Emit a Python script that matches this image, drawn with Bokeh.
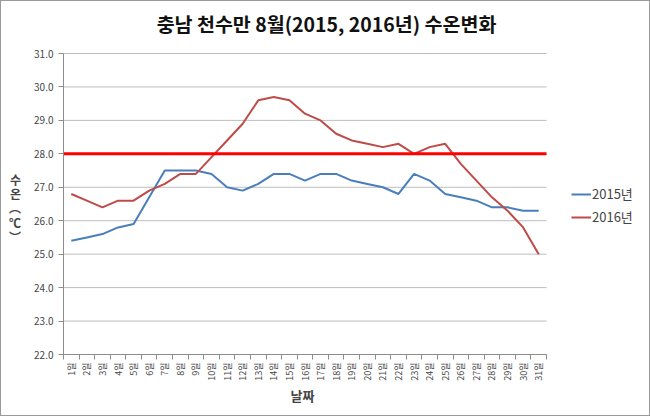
import math
from bokeh.plotting import figure
from bokeh.models import (FixedTicker, NumeralTickFormatter, Legend, LegendItem,
                          Range1d, Axis, Label, Title)
from bokeh.embed import file_html
from bokeh.resources import INLINE

days = list(range(1, 32))
day_labels = [f"{d}일" for d in days]
temp_2015 = [25.4, 25.5, 25.6, 25.8, 25.9, 26.7, 27.5, 27.5, 27.5, 27.4,
             27.0, 26.9, 27.1, 27.4, 27.4, 27.2, 27.4, 27.4, 27.2, 27.1,
             27.0, 26.8, 27.4, 27.2, 26.8, 26.7, 26.6, 26.4, 26.4, 26.3, 26.3]
temp_2016 = [26.8, 26.6, 26.4, 26.6, 26.6, 26.9, 27.1, 27.4, 27.4, 27.9,
             28.4, 28.9, 29.6, 29.7, 29.6, 29.2, 29.0, 28.6, 28.4, 28.3,
             28.2, 28.3, 28.0, 28.2, 28.3, 27.7, 27.2, 26.7, 26.3, 25.8, 25.0]
series_names = ["2015년", "2016년"]
threshold = 28.0
y_ticks = [22.0, 23.0, 24.0, 25.0, 26.0, 27.0, 28.0, 29.0, 30.0, 31.0]
title_text = "충남 천수만 8월(2015, 2016년) 수온변화"
x_title = "날짜"
# vertical (stacked) y-axis title: 수 온 (℃)
y_title_chars = ["수", "온", "︵", "℃", "︶"]

FONT = "Noto Sans CJK KR"

# layout (pixels)
W, H = 650, 416
LEFT, RIGHT_PLOT, RIGHT_FRAME = 62, 545, 640
TOP_PLOT, BOTTOM, TOP_FRAME = 52, 353, 2
X0, X1 = 0.5, 31.5
Y0, Y1 = y_ticks[0], y_ticks[-1]
px_x = (RIGHT_PLOT - LEFT) / (X1 - X0)
px_y = (BOTTOM - TOP_PLOT) / (Y1 - Y0)
def x_of(px):
    return X0 + (px - LEFT) / px_x
def y_of(py):
    return Y0 + (BOTTOM - py) / px_y

p = figure(width=W, height=H, output_backend="svg", toolbar_location=None,
           x_range=Range1d(X0, x_of(RIGHT_FRAME)),
           y_range=Range1d(Y0, y_of(TOP_FRAME)),
           min_border_left=LEFT, min_border_right=W - RIGHT_FRAME,
           min_border_top=TOP_FRAME, min_border_bottom=H - BOTTOM,
           background_fill_color="white", border_fill_color="white")
p.outline_line_color = None
p.styles = {"border": "1px solid #9a9a9a", "box-sizing": "border-box"}

# title (inside the extended frame)
p.add_layout(Label(x=x_of(325), y=y_of(22), text=title_text, text_font=FONT,
                   text_font_size="19.5px", text_font_style="bold",
                   text_align="center", text_baseline="middle",
                   text_color="#111111"))

# x axis
xa = p.xaxis[0]
xa.bounds = (X0, X1)
xa.ticker = FixedTicker(ticks=days, minor_ticks=[d + 0.5 for d in range(0, 32)])
xa.major_label_overrides = {d: lab for d, lab in zip(days, day_labels)}
xa.major_label_orientation = math.pi / 2
xa.major_label_text_font = FONT
xa.major_label_text_font_size = "9px"
xa.major_tick_line_color = None
xa.minor_tick_line_color = "#8c8c8c"
xa.minor_tick_out = 5
xa.minor_tick_in = 0
xa.axis_line_color = "#8c8c8c"
xa.major_label_standoff = 2

p.add_layout(Title(text=x_title, align="left", offset=302 - LEFT - 13,
                   text_font=FONT, text_font_size="13px",
                   text_font_style="bold", standoff=0), "below")

# y axis
ya = p.yaxis[0]
ya.bounds = (Y0, Y1)
ya.ticker = FixedTicker(ticks=y_ticks)
ya.formatter = NumeralTickFormatter(format="0.0")
ya.major_label_text_font = FONT
ya.major_label_text_font_size = "10px"
ya.major_tick_line_color = "#8c8c8c"
ya.major_tick_out = 5
ya.major_tick_in = 0
ya.minor_tick_line_color = None
ya.axis_line_color = "#8c8c8c"
ya.major_label_standoff = 5
# four empty lines on top push the stacked title down to where it sits
ya.axis_label = "\n".join([""] * 4 + y_title_chars)
ya.axis_label_text_font = FONT
ya.axis_label_text_font_size = "12px"
ya.axis_label_text_font_style = "bold"
ya.axis_label_text_line_height = 0.85
ya.axis_label_standoff = 10
ya.axis_label_text_align = "center"
if "axis_label_orientation" in Axis.properties():
    ya.axis_label_orientation = "horizontal"

# horizontal gridlines limited to the plot's x extent
p.xgrid.grid_line_color = None
p.ygrid.grid_line_color = None
p.segment(x0=[X0] * len(y_ticks), x1=[X1] * len(y_ticks), y0=y_ticks, y1=y_ticks,
          line_color="#bdbdbd", line_width=1)

r1 = p.line(days, temp_2015, line_color="#4a7ebb", line_width=2)
r2 = p.line(days, temp_2016, line_color="#be4b48", line_width=2)

# threshold line
p.segment(x0=[X0], x1=[X1], y0=[threshold], y1=[threshold],
          line_color="#ff0000", line_width=3)

legend = Legend(items=[LegendItem(label=series_names[0], renderers=[r1]),
                       LegendItem(label=series_names[1], renderers=[r2])],
                location=(508, 128), label_text_font=FONT,
                label_text_font_size="13px", padding=0, spacing=4,
                glyph_width=20, glyph_height=16, label_height=16,
                label_standoff=1, border_line_color=None,
                background_fill_alpha=0, margin=0)
p.add_layout(legend, "center")

open("out.html", "w").write(file_html(p, INLINE))
